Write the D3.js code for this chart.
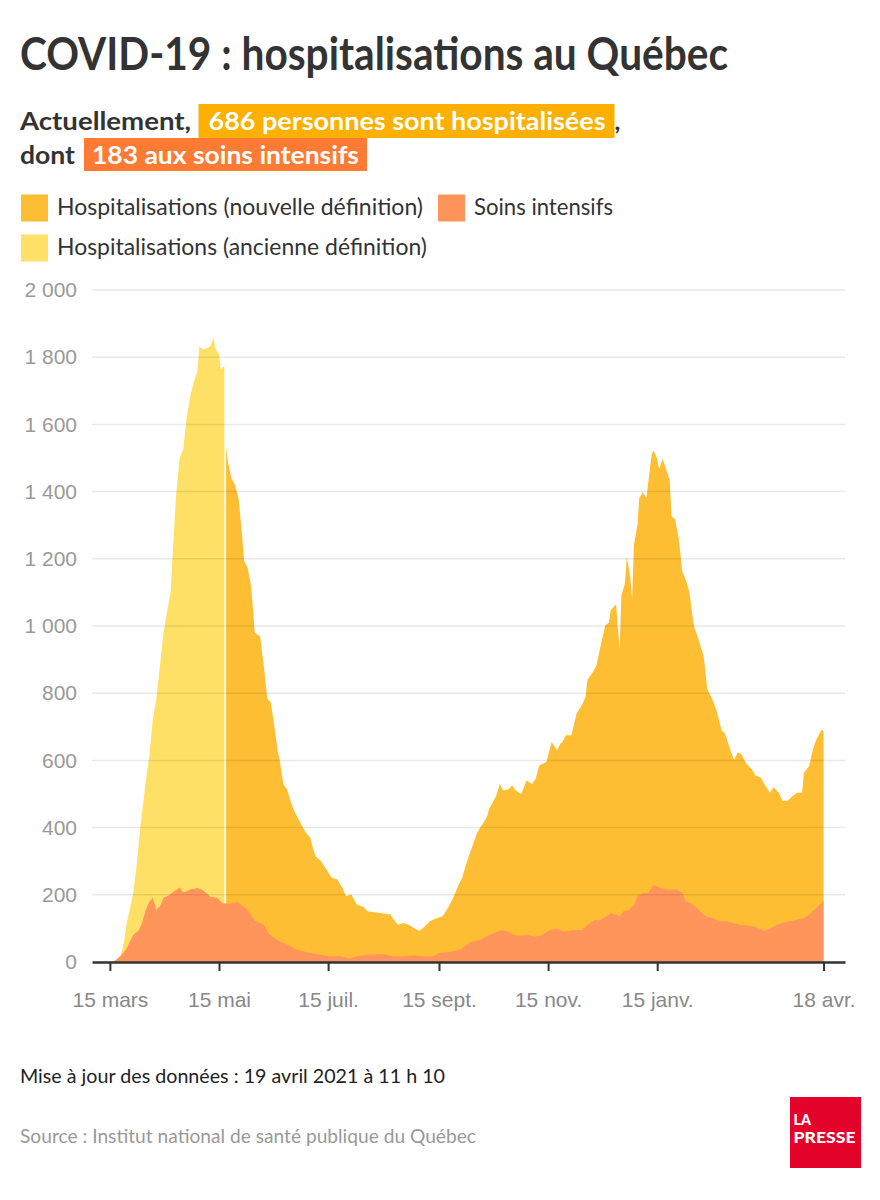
<!DOCTYPE html>
<html lang="fr">
<head>
<meta charset="utf-8">
<title>COVID-19 : hospitalisations au Québec</title>
<script src="https://cdn.jsdelivr.net/npm/d3@7"></script>
<style>
  body { margin: 0; background: #fff; }
  svg { display: block; font-family: Lato, "Open Sans", sans-serif; }
</style>
</head>
<body>
<svg id="chart" width="880" height="1200"></svg>
<script>
// Hospitalisations, ancienne définition (jusqu'au 18 mai)
const oldDates = ["2020-03-15","2020-03-18","2020-03-21","2020-03-23","2020-03-24","2020-03-26","2020-03-28","2020-03-30",
  "2020-04-01","2020-04-03","2020-04-04","2020-04-06","2020-04-08","2020-04-10","2020-04-12","2020-04-14","2020-04-16",
  "2020-04-18","2020-04-19","2020-04-21","2020-04-23","2020-04-25","2020-04-27","2020-04-29","2020-05-01","2020-05-03",
  "2020-05-04","2020-05-06","2020-05-08","2020-05-10","2020-05-12","2020-05-13","2020-05-15","2020-05-16","2020-05-18"];
const oldValues = [0, 5, 18, 62, 105, 154, 204, 290,
  401, 488, 537, 611, 722, 784, 883, 981, 1043,
  1105, 1204, 1389, 1500, 1525, 1623, 1685, 1728, 1759,
  1833, 1823, 1827, 1831, 1858, 1827, 1809, 1765, 1774];

// Hospitalisations, nouvelle définition
const newDates = ["2020-05-19","2020-05-20","2020-05-22","2020-05-24","2020-05-26","2020-05-28","2020-05-29","2020-05-31",
  "2020-06-02","2020-06-04","2020-06-07","2020-06-09","2020-06-11","2020-06-13","2020-06-15","2020-06-17","2020-06-18",
  "2020-06-20","2020-06-22","2020-06-24","2020-06-26","2020-06-29","2020-07-02","2020-07-05","2020-07-07","2020-07-08",
  "2020-07-11","2020-07-14","2020-07-17","2020-07-20","2020-07-23","2020-07-25","2020-07-28","2020-07-31","2020-08-04",
  "2020-08-06","2020-08-09","2020-08-13","2020-08-19","2020-08-20","2020-08-23","2020-08-26","2020-08-29","2020-09-01",
  "2020-09-04","2020-09-07","2020-09-10","2020-09-14","2020-09-17","2020-09-20","2020-09-23","2020-09-26","2020-09-28",
  "2020-09-29","2020-10-02","2020-10-04","2020-10-06","2020-10-08","2020-10-10","2020-10-12","2020-10-13","2020-10-15",
  "2020-10-17","2020-10-19","2020-10-21","2020-10-24","2020-10-26","2020-10-28","2020-10-31","2020-11-03","2020-11-06",
  "2020-11-08","2020-11-10","2020-11-14","2020-11-17","2020-11-20","2020-11-22","2020-11-23","2020-11-25","2020-11-28",
  "2020-12-01","2020-12-04","2020-12-06","2020-12-07","2020-12-10","2020-12-12","2020-12-14","2020-12-17","2020-12-19",
  "2020-12-20","2020-12-23","2020-12-24","2020-12-25","2020-12-26","2020-12-28","2020-12-29","2020-12-31","2021-01-01",
  "2021-01-02","2021-01-04","2021-01-05","2021-01-07","2021-01-09","2021-01-11","2021-01-12","2021-01-13","2021-01-15",
  "2021-01-16","2021-01-18","2021-01-20","2021-01-22","2021-01-23","2021-01-25","2021-01-27","2021-01-29","2021-01-31",
  "2021-02-02","2021-02-04","2021-02-05","2021-02-07","2021-02-10","2021-02-12","2021-02-14","2021-02-17","2021-02-20",
  "2021-02-22","2021-02-25","2021-02-27","2021-03-01","2021-03-03","2021-03-06","2021-03-09","2021-03-11","2021-03-14",
  "2021-03-16","2021-03-19","2021-03-21","2021-03-24","2021-03-26","2021-03-29","2021-03-31","2021-04-03","2021-04-06",
  "2021-04-07","2021-04-10","2021-04-12","2021-04-14","2021-04-16","2021-04-17","2021-04-18"];
const newValues = [1537, 1488, 1438, 1420, 1377, 1265, 1194, 1173,
  1117, 981, 969, 883, 784, 772, 698, 623, 599,
  529, 514, 480, 450, 420, 390, 370, 330, 315,
  300, 276, 251, 246, 221, 196, 201, 171, 163,
  151, 149, 146, 141, 131, 111, 116, 111, 101,
  92, 106, 121, 131, 136, 161, 191, 231, 251,
  271, 320, 350, 380, 400, 415, 435, 455, 475,
  495, 530, 510, 515, 525, 510, 500, 540, 530,
  545, 585, 595, 655, 630, 650, 655, 675, 675,
  740, 765, 790, 840, 862, 882, 932, 1002, 1010,
  1047, 1065, 995, 930, 1092, 1127, 1207, 1142, 1082,
  1242, 1302, 1382, 1397, 1382, 1472, 1512, 1522, 1497,
  1467, 1497, 1467, 1432, 1327, 1317, 1262, 1162, 1137,
  1102, 1017, 992, 962, 910, 812, 792, 752, 690,
  679, 629, 601, 624, 619, 589, 574, 554, 549,
  529, 504, 520, 504, 480, 480, 490, 504, 504,
  563, 583, 632, 662, 682, 692, 686];

// Soins intensifs
const icuDates = ["2020-03-17","2020-03-21","2020-03-24","2020-03-28","2020-03-31","2020-04-02","2020-04-04","2020-04-06",
  "2020-04-08","2020-04-10","2020-04-12","2020-04-14","2020-04-17","2020-04-19","2020-04-23","2020-04-25","2020-04-29",
  "2020-05-03","2020-05-06","2020-05-10","2020-05-14","2020-05-17","2020-05-21","2020-05-25","2020-05-29","2020-06-01",
  "2020-06-04","2020-06-09","2020-06-12","2020-06-17","2020-06-20","2020-06-24","2020-06-27","2020-07-01","2020-07-05",
  "2020-07-10","2020-07-16","2020-07-22","2020-07-27","2020-07-31","2020-08-07","2020-08-15","2020-08-20","2020-08-26",
  "2020-09-01","2020-09-06","2020-09-12","2020-09-15","2020-09-21","2020-09-27","2020-09-30","2020-10-03","2020-10-08",
  "2020-10-11","2020-10-15","2020-10-20","2020-10-25","2020-10-28","2020-11-03","2020-11-08","2020-11-12","2020-11-16",
  "2020-11-20","2020-11-24","2020-11-29","2020-12-04","2020-12-07","2020-12-11","2020-12-14","2020-12-18","2020-12-20",
  "2020-12-23","2020-12-25","2020-12-27","2020-12-30","2021-01-02","2021-01-04","2021-01-07","2021-01-10","2021-01-13",
  "2021-01-16","2021-01-20","2021-01-26","2021-01-29","2021-01-31","2021-02-04","2021-02-08","2021-02-11","2021-02-15",
  "2021-02-19","2021-02-23","2021-02-26","2021-03-02","2021-03-06","2021-03-10","2021-03-13","2021-03-16","2021-03-19",
  "2021-03-23","2021-03-26","2021-03-30","2021-04-03","2021-04-07","2021-04-10","2021-04-14","2021-04-17","2021-04-18"];
const icuValues = [0, 18, 37, 80, 93, 117, 154, 179,
  191, 154, 167, 191, 198, 206, 222, 206, 216,
  220, 214, 194, 191, 175, 173, 179, 164, 148,
  123, 111, 83, 64, 57, 47, 37, 32, 27,
  22, 17, 17, 10, 17, 22, 24, 17, 17,
  20, 17, 17, 27, 30, 37, 50, 60, 65,
  75, 85, 95, 88, 78, 80, 75, 82, 95,
  100, 90, 95, 95, 110, 125, 125, 138, 145,
  142, 135, 150, 155, 170, 195, 205, 205, 230,
  222, 216, 216, 206, 181, 171, 151, 136, 131,
  121, 121, 116, 111, 109, 106, 100, 93, 100,
  111, 116, 121, 126, 131, 141, 161, 176, 183];

// Axes
const tickDates = ["2020-03-15","2020-05-15","2020-07-15","2020-09-15","2020-11-15","2021-01-15","2021-04-18"];
const tickLabels = ["15 mars","15 mai","15 juil.","15 sept.","15 nov.","15 janv.","18 avr."];
const yTicks = [0, 200, 400, 600, 800, 1000, 1200, 1400, 1600, 1800, 2000];

const parse = d3.utcParse("%Y-%m-%d");
const fr = d3.formatLocale({ decimal: ",", thousands: "\u00a0", grouping: [3], currency: ["", " $"] });
const fmt = fr.format(",d");

const colors = {
    text: "#333",
    grey: "#999",
    oldDef: "#FFE066",
    newDef: "#FDBE33",
    icu: "#FF955B",
    hiHosp: "#FDB000",
    hiIcu: "#FF7B33",
    logo: "#E4032B"
};

const svg = d3.select("#chart");

// squeeze text to the narrow width of the original font
function fit(sel, w) {
    return sel.attr("textLength", w).attr("lengthAdjust", "spacingAndGlyphs");
}

function addText(x, y, str, size, weight, fill) {
    return svg.append("text")
        .attr("x", x).attr("y", y)
        .attr("font-size", size)
        .attr("font-weight", weight)
        .attr("fill", fill)
        .text(str);
}

function drawHeader() {
    fit(addText(20, 70, "COVID-19 : hospitalisations au Québec", 46, 700, colors.text), 708);

    // first line with highlighted number
    fit(addText(20, 129.5, "Actuellement,", 25, 700, colors.text), 171);
    svg.append("rect").attr("x", 198.5).attr("y", 104).attr("width", 416).attr("height", 34).attr("fill", colors.hiHosp);
    fit(addText(208.5, 129.5, "686 personnes sont hospitalisées", 25, 700, "#fff"), 397);
    addText(614.5, 129.5, ",", 25, 700, colors.text);

    fit(addText(20, 163.5, "dont", 25, 700, colors.text), 55);
    svg.append("rect").attr("x", 84).attr("y", 138).attr("width", 283).attr("height", 33).attr("fill", colors.hiIcu);
    fit(addText(92, 163.5, "183 aux soins intensifs", 25, 700, "#fff"), 267);

    // legend
    const legend = [
        { x: 21, y: 194.5, color: colors.newDef, label: "Hospitalisations (nouvelle définition)", w: 366 },
        { x: 438, y: 194.5, color: colors.icu, label: "Soins intensifs", w: 139 },
        { x: 21, y: 234.5, color: colors.oldDef, label: "Hospitalisations (ancienne définition)", w: 370 }
    ];
    legend.forEach(l => {
        svg.append("rect").attr("x", l.x).attr("y", l.y).attr("width", 27).attr("height", 27).attr("fill", l.color);
        fit(addText(l.x + 36, l.y + 20.5, l.label, 24, 400, colors.text), l.w);
    });
}

function drawChart() {
    const x = d3.scaleUtc()
        .domain([parse("2020-03-05"), parse("2021-04-30")])
        .range([92, 845]);

    const y = d3.scaleLinear()
        .domain([0, 2000])
        .range([962, 290]);

    const area = d3.area()
        .x(d => x(d.date))
        .y0(y(0))
        .y1(d => y(d.value));

    const series = (dates, values) => dates.map((d, i) => ({ date: parse(d), value: values[i] }));

    svg.append("path").datum(series(oldDates, oldValues)).attr("fill", colors.oldDef).attr("d", area);
    svg.append("path").datum(series(newDates, newValues)).attr("fill", colors.newDef).attr("d", area);
    svg.append("path").datum(series(icuDates, icuValues)).attr("fill", colors.icu).attr("d", area);

    // gridlines sit on top of the areas, lightly
    svg.append("g")
        .selectAll("line")
        .data(yTicks.filter(v => v > 0))
        .join("line")
        .attr("x1", 92).attr("x2", 845)
        .attr("y1", d => y(d)).attr("y2", d => y(d))
        .attr("stroke", "#000")
        .attr("stroke-opacity", 0.09)
        .attr("stroke-width", 1.5);

    const yAxis = svg.append("g")
        .attr("transform", "translate(92,0)")
        .call(d3.axisLeft(y).tickValues(yTicks).tickFormat(fmt).tickSize(0).tickPadding(15));
    yAxis.select(".domain").remove();
    yAxis.selectAll("text")
        .attr("font-family", null)
        .attr("font-size", 21)
        .attr("fill", colors.grey);

    const xAxis = svg.append("g")
        .attr("transform", `translate(0,${y(0)})`)
        .call(d3.axisBottom(x)
            .tickValues(tickDates.map(parse))
            .tickFormat((d, i) => tickLabels[i])
            .tickSize(9)
            .tickSizeOuter(0));
    xAxis.select(".domain").attr("stroke", colors.text).attr("stroke-width", 2.5);
    xAxis.selectAll(".tick line").attr("stroke", colors.text).attr("stroke-width", 2);
    xAxis.selectAll("text")
        .attr("font-family", null)
        .attr("font-size", 21)
        .attr("fill", "#888")
        .attr("y", 45)
        .attr("dy", 0);
}

function drawFooter() {
    fit(addText(20, 1083, "Mise à jour des données : 19 avril 2021 à 11 h 10", 20, 400, "#222"), 425);
    fit(addText(20, 1143, "Source : Institut national de santé publique du Québec", 19, 400, colors.grey), 456);

    // La Presse logo
    svg.append("rect").attr("x", 790).attr("y", 1097).attr("width", 71).attr("height", 71).attr("fill", colors.logo);
    fit(addText(793.5, 1125, "LA", 14.5, 900, "#fff"), 17.5);
    fit(addText(793.5, 1142.5, "PRESSE", 14.5, 900, "#fff"), 62);
}

drawHeader();
drawChart();
drawFooter();
</script>
</body>
</html>
